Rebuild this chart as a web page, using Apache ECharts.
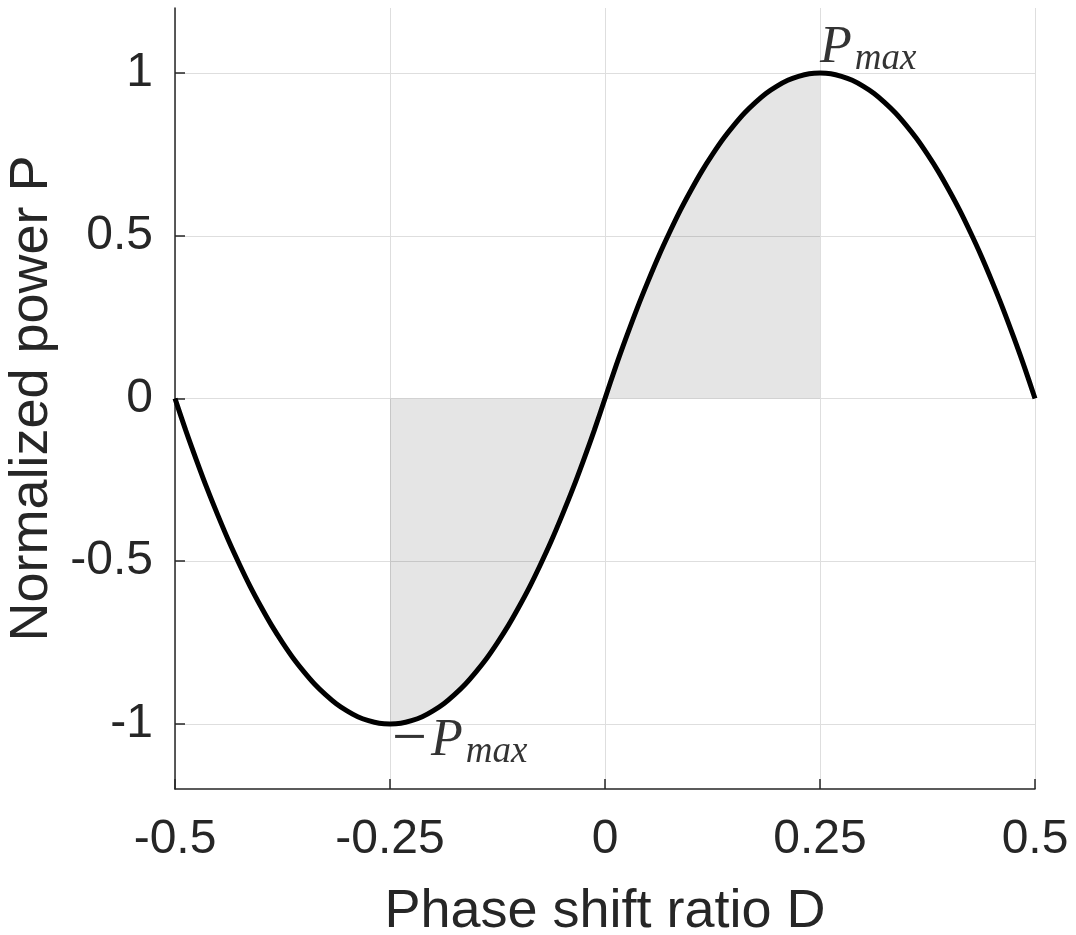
<!DOCTYPE html>
<html>
<head>
<meta charset="utf-8">
<script src="https://cdn.jsdelivr.net/npm/echarts@6/dist/echarts.min.js"></script>
<style>
html,body{margin:0;padding:0;background:#fff;}
#chart{width:1076px;height:935px;}
</style>
</head>
<body>
<div id="chart"></div>
<script>
// Phase shift ratio D (x) and normalized power P (y)
var phaseShift = [-0.5,-0.4875,-0.475,-0.4625,-0.45,-0.4375,-0.425,-0.4125,-0.4,-0.3875,-0.375,-0.3625,-0.35,-0.3375,-0.325,-0.3125,-0.3,-0.2875,-0.275,-0.2625,-0.25,-0.2375,-0.225,-0.2125,-0.2,-0.1875,-0.175,-0.1625,-0.15,-0.1375,-0.125,-0.1125,-0.1,-0.0875,-0.075,-0.0625,-0.05,-0.0375,-0.025,-0.0125,0,0.0125,0.025,0.0375,0.05,0.0625,0.075,0.0875,0.1,0.1125,0.125,0.1375,0.15,0.1625,0.175,0.1875,0.2,0.2125,0.225,0.2375,0.25,0.2625,0.275,0.2875,0.3,0.3125,0.325,0.3375,0.35,0.3625,0.375,0.3875,0.4,0.4125,0.425,0.4375,0.45,0.4625,0.475,0.4875,0.5];
var power = [0,-0.098,-0.19,-0.278,-0.36,-0.438,-0.51,-0.578,-0.64,-0.698,-0.75,-0.798,-0.84,-0.878,-0.91,-0.938,-0.96,-0.978,-0.99,-0.998,-1,-0.998,-0.99,-0.978,-0.96,-0.938,-0.91,-0.878,-0.84,-0.798,-0.75,-0.698,-0.64,-0.578,-0.51,-0.438,-0.36,-0.278,-0.19,-0.098,0,0.098,0.19,0.278,0.36,0.438,0.51,0.578,0.64,0.698,0.75,0.798,0.84,0.878,0.91,0.938,0.96,0.978,0.99,0.998,1,0.998,0.99,0.978,0.96,0.938,0.91,0.878,0.84,0.798,0.75,0.698,0.64,0.578,0.51,0.438,0.36,0.278,0.19,0.098,0];
// shaded ranges of D
var shadeNeg = [-0.25, 0];
var shadePos = [0, 0.25];
// tick labels
var xTicks = [-0.5,-0.25,0,0.25,0.5];
var yTicks = [-1,-0.5,0,0.5,1];
// annotation points
var pmaxPoint = [0.25, 1];
var pminPoint = [-0.25, -1];

var curve = phaseShift.map(function(d,i){return [d, power[i]];});
function sub(range){
  return curve.filter(function(p){return p[0] >= range[0]-1e-9 && p[0] <= range[1]+1e-9;});
}

var axisColor = '#262626';
var mathRich = {
  m:{fontFamily:'Liberation Serif, serif', fontSize:62, color:'#000', padding:[0,4,0,0]},
  p:{fontFamily:'Liberation Serif, serif', fontStyle:'italic', fontSize:52, color:'#000'},
  s:{fontFamily:'Liberation Serif, serif', fontStyle:'italic', fontSize:37, color:'#000', padding:[22,0,0,3]}
};
function annot(point, text, offset){
  return {type:'scatter', symbolSize:0, silent:true, z:6, data:[point],
    label:{show:true, position:'inside', align:'left', verticalAlign:'middle', offset:offset,
      formatter:text, rich:mathRich}};
}

var chart = echarts.init(document.getElementById('chart'), null, {renderer:'canvas'});
var option = {
  animation: false,
  grid: {left:175, right:41, top:8, bottom:146, containLabel:false, outerBoundsMode:'none'},
  xAxis: {
    type:'value', min:-0.5, max:0.5, interval:0.25,
    name:'Phase shift ratio D', nameLocation:'middle', nameGap:96,
    nameTextStyle:{fontFamily:'Liberation Sans, Arial, sans-serif', fontSize:54, color:axisColor},
    axisLine:{show:true, onZero:false, lineStyle:{color:axisColor, width:1.5}},
    axisTick:{show:true, inside:true, length:10, lineStyle:{color:axisColor, width:1.5}},
    axisLabel:{fontFamily:'Liberation Sans, Arial, sans-serif', fontSize:48, color:axisColor, margin:27, showMinLabel:true, showMaxLabel:true,
      formatter:function(v){return String(v);}},
    splitLine:{show:true, lineStyle:{color:'#dedede', width:1}}
  },
  yAxis: {
    type:'value', min:-1.2, max:1.2,
    name:'Normalized power P', nameLocation:'middle', nameGap:110,
    nameTextStyle:{fontFamily:'Liberation Sans, Arial, sans-serif', fontSize:54, color:axisColor},
    axisLine:{show:true, onZero:false, lineStyle:{color:axisColor, width:1.5}},
    axisTick:{show:true, inside:true, length:10, customValues:yTicks, lineStyle:{color:axisColor, width:1.5}},
    axisLabel:{fontFamily:'Liberation Sans, Arial, sans-serif', fontSize:48, color:axisColor, margin:22, customValues:yTicks,
      formatter:function(v){return String(v);}},
    splitLine:{show:true, lineStyle:{color:'#dedede', width:1}}
  },
  series: [
    {type:'line', data:sub(shadeNeg), smooth:0.3, symbol:'none', silent:true, z:2,
     lineStyle:{width:0}, areaStyle:{color:'rgba(0,0,0,0.1)', opacity:1}},
    {type:'line', data:sub(shadePos), smooth:0.3, symbol:'none', silent:true, z:2,
     lineStyle:{width:0}, areaStyle:{color:'rgba(0,0,0,0.1)', opacity:1}},
    {type:'line', data:curve, smooth:0.3, symbol:'none', silent:true, z:5,
     lineStyle:{color:'#000', width:5}},
    annot(pmaxPoint, '{p|P}{s|max}', [0,-25]),
    annot(pminPoint, '{m|\u2212}{p|P}{s|max}', [2,17])
  ]
};
chart.setOption(option);
</script>
</body>
</html>
